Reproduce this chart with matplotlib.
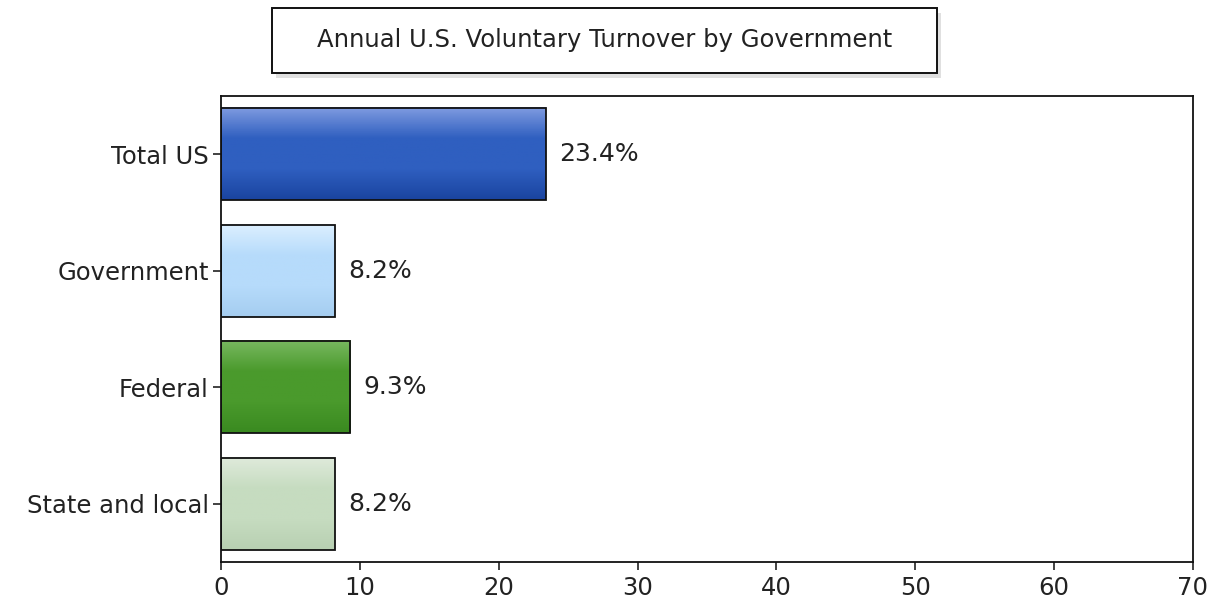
import matplotlib
matplotlib.use("Agg")
import matplotlib.pyplot as plt
import numpy as np
from matplotlib.colors import LinearSegmentedColormap
from matplotlib.patches import Rectangle

categories = ["Total US", "Government", "Federal", "State and local"]
values = [23.4, 8.2, 9.3, 8.2]
labels = ["23.4%", "8.2%", "9.3%", "8.2%"]
# light top, main, dark bottom of each bar
bar_colors = [
    ("#7f9be0", "#2f5fc0", "#1a44a0"),
    ("#dcefff", "#b6dbfb", "#a5cdf0"),
    ("#78b860", "#4a9a2c", "#3a8a20"),
    ("#dfeadb", "#c6dcc0", "#b8d0b2"),
]
x_ticks = [0, 10, 20, 30, 40, 50, 60, 70]
title = "Annual U.S. Voluntary Turnover by Government"

plt.rcParams["font.family"] = ["DejaVu Sans"]

W, H = 1222, 607
fig = plt.figure(figsize=(W / 100, H / 100), dpi=100)
ax = fig.add_axes([0.181, 0.074, 0.795, 0.768])

ypos = np.arange(len(categories))
height = 0.79
bars = ax.barh(ypos, values, height=height, color="none", edgecolor="#111111",
               linewidth=1.3, zorder=3)

# vertical gradient inside each bar (y axis is inverted, so list runs dark->light)
for bar, cols in zip(bars, bar_colors):
    cmap = LinearSegmentedColormap.from_list("g", [cols[2], cols[1], cols[1], cols[0]])
    grad = np.linspace(0, 1, 100).reshape(-1, 1)
    x0, y0 = bar.get_x(), bar.get_y()
    ax.imshow(grad, aspect="auto", cmap=cmap, origin="lower",
              extent=[x0, x0 + bar.get_width(), y0 + bar.get_height(), y0], zorder=2)

for y, v, lab in zip(ypos, values, labels):
    ax.text(v + 0.95, y, lab, va="center", ha="left", fontsize=18, color="#222222")

ax.set_xlim(0, 70)
ax.set_ylim(len(categories) - 0.5, -0.5)
ax.set_xticks(x_ticks)
ax.set_yticks(ypos)
ax.set_yticklabels(categories)
ax.tick_params(axis="both", labelsize=17.5, colors="#222222", length=6, width=1.2, direction="out")
ax.tick_params(axis="x", pad=4)
ax.tick_params(axis="y", pad=3)
for s in ax.spines.values():
    s.set_linewidth(1.3)
    s.set_color("#111111")

# title box with a soft shadow
bx0, bx1, by0, by1 = 272 / W, 937 / W, 1 - 73 / H, 1 - 8 / H
fig.patches.append(Rectangle((bx0 + 4 / W, by0 - 5 / H), bx1 - bx0, by1 - by0,
                             transform=fig.transFigure, facecolor="#cccccc", edgecolor="none", alpha=0.6))
fig.patches.append(Rectangle((bx0, by0), bx1 - bx0, by1 - by0, transform=fig.transFigure,
                             facecolor="white", edgecolor="#111111", linewidth=1.4))
fig.text((bx0 + bx1) / 2, (by0 + by1) / 2, title, ha="center", va="center",
         fontsize=17.5, color="#222222")

fig.savefig("out.png", dpi=100)
